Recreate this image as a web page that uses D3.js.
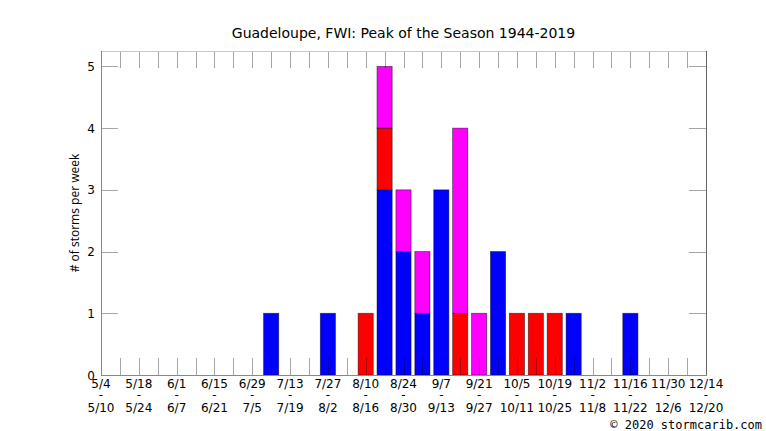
<!DOCTYPE html>
<html><head><meta charset="utf-8">
<script src="https://cdn.jsdelivr.net/npm/d3@7"></script>
<style>body{margin:0;background:#fff}svg{display:block}</style>
</head><body>
<svg id="c" width="766" height="431"></svg>
<script>
// Week index (0 = 5/4-5/10), counts per storm category
const weeks = [9, 12, 14, 15, 16, 17, 18, 19, 20, 21, 22, 23, 24, 25, 28];
const blue    = [1, 1, 0, 3, 2, 1, 3, 0, 0, 2, 0, 0, 0, 1, 1];
const red     = [0, 0, 1, 1, 0, 0, 0, 1, 0, 0, 1, 1, 1, 0, 0];
const magenta = [0, 0, 0, 1, 1, 1, 0, 3, 1, 0, 0, 0, 0, 0, 0];
const startLabels = ["5/4","5/18","6/1","6/15","6/29","7/13","7/27","8/10","8/24","9/7","9/21","10/5","10/19","11/2","11/16","11/30","12/14"];
const endLabels   = ["5/10","5/24","6/7","6/21","7/5","7/19","8/2","8/16","8/30","9/13","9/27","10/11","10/25","11/8","11/22","12/6","12/20"];
const yTicks = [0,1,2,3,4,5];

const svg = d3.select("#c");
const L=101, R=706, T=51, B=375;
const x = d3.scaleLinear().domain([0,32]).range([L,R]);
const y = d3.scaleLinear().domain([0,5.25]).range([B,T]);
const font = "DejaVu Sans, sans-serif";

const data = weeks.map((w,i)=>({w, blue:blue[i], red:red[i], magenta:magenta[i]}));
const stack = d3.stack().keys(["blue","red","magenta"])(data);
const colors = {blue:"#0000ff", red:"#ff0000", magenta:"#ff00ff"};
const bw = (x(1)-x(0))*0.8;

stack.forEach(layer=>{
  svg.append("g").selectAll("rect").data(layer.filter(d=>d[1]>d[0])).join("rect")
    .attr("x", d=>x(d.data.w)-bw/2)
    .attr("y", d=>y(d[1]))
    .attr("width", bw)
    .attr("height", d=>y(d[0])-y(d[1]))
    .attr("fill", colors[layer.key])
    .attr("stroke", "rgba(0,0,0,0.55)")
    .attr("stroke-width", 0.8);
});

// week ticks (top & bottom)
const wk = d3.range(1,32);
const tk = svg.append("g").attr("stroke","rgba(0,0,0,0.35)").attr("stroke-width",1);
wk.forEach(i=>{
  tk.append("line").attr("x1",Math.round(x(i))+0.5).attr("x2",Math.round(x(i))+0.5).attr("y1",B).attr("y2",B-17);
  tk.append("line").attr("x1",Math.round(x(i))+0.5).attr("x2",Math.round(x(i))+0.5).attr("y1",T).attr("y2",T+17);
});
// y ticks
yTicks.filter(v=>v>0).forEach(v=>{
  const yy = Math.round(y(v))+0.5;
  tk.append("line").attr("x1",L).attr("x2",L+17).attr("y1",yy).attr("y2",yy);
  tk.append("line").attr("x1",R-17).attr("x2",R).attr("y1",yy).attr("y2",yy);
});

// frame
svg.append("line").attr("x1",L).attr("x2",R).attr("y1",T+0.5).attr("y2",T+0.5).attr("stroke","#c8c8c8");
svg.append("line").attr("x1",L+0.5).attr("x2",L+0.5).attr("y1",T).attr("y2",B).attr("stroke","#888");
svg.append("line").attr("x1",R+0.5).attr("x2",R+0.5).attr("y1",T).attr("y2",B).attr("stroke","#666");
svg.append("line").attr("x1",L).attr("x2",R+1).attr("y1",B+0.5).attr("y2",B+0.5).attr("stroke","#888");

// y labels
svg.append("g").selectAll("text").data(yTicks).join("text")
  .attr("x", L-6).attr("y", d=>y(d)+4.5)
  .attr("text-anchor","end").attr("font-family",font).attr("font-size",12).attr("fill","#000")
  .text(d=>d);

// x labels (one text per tick, three lines)
const xl = svg.append("g").attr("font-family",font).attr("font-size",12).attr("text-anchor","middle").attr("fill","#000");
startLabels.forEach((s,i)=>{
  const cx = x(i*2);
  const t = xl.append("text").attr("x",cx).attr("y",388);
  t.append("tspan").attr("x",cx).text(s);
  t.append("tspan").attr("x",cx).attr("dy",11).text("-");
  t.append("tspan").attr("x",cx).attr("dy",13).text(endLabels[i]);
});

// title
svg.append("text").attr("x",(L+R)/2).attr("y",38).attr("text-anchor","middle")
  .attr("font-family",font).attr("font-size",14).text("Guadeloupe, FWI: Peak of the Season 1944-2019");

// y axis title
svg.append("text").attr("transform",`translate(79,${(T+B)/2}) rotate(-90)`).attr("text-anchor","middle")
  .attr("font-family","Open Sans, sans-serif").attr("font-size",12).text("# of storms per week");

// copyright
svg.append("text").attr("x",762).attr("y",429).attr("text-anchor","end")
  .attr("font-family","DejaVu Sans Mono, monospace").attr("font-size",12).text("© 2020 stormcarib.com");
</script>
</body></html>
